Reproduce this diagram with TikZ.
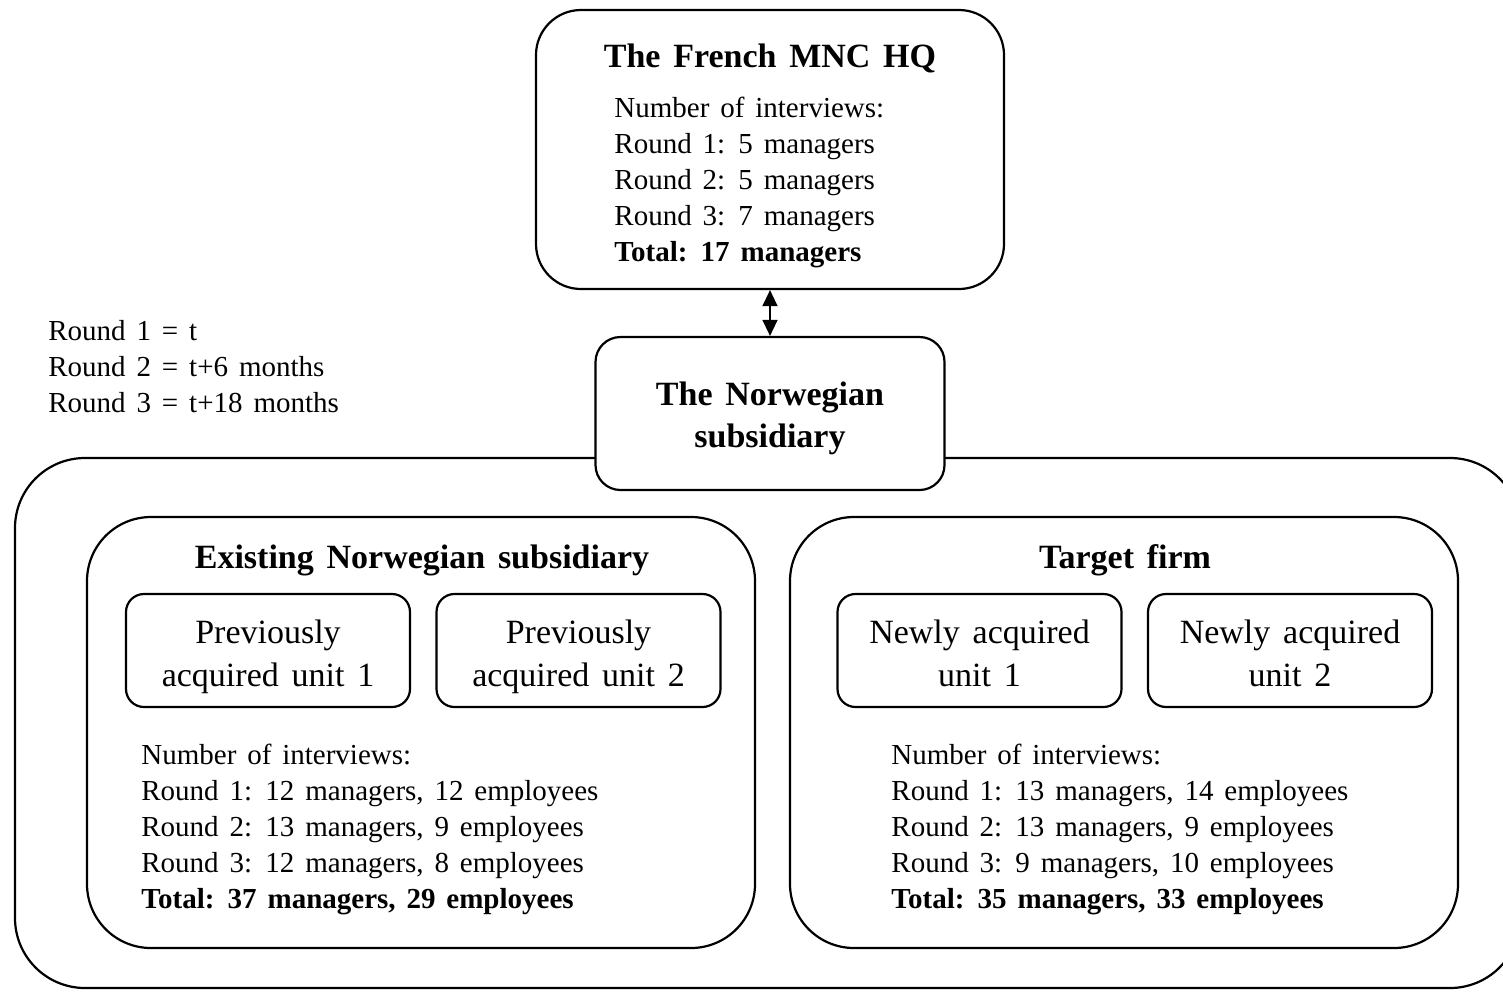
\documentclass[tikz,border=0pt]{standalone}
\usepackage{fontspec}
\setmainfont[WordSpace=1.5]{Liberation Serif}
\usetikzlibrary{arrows.meta, positioning}

\newcommand{\lowerline}[1]{\rule{0pt}{#1}}

\begin{document}
\begin{tikzpicture}[
    x=0.5pt, y=-0.5pt,
    frame/.style={
        draw,
        line width=1.1pt,
        fill=white,
        inner sep=0pt
    },
    outerbox/.style={frame, rounded corners=35pt, minimum width=752.5pt, minimum height=265pt},
    groupbox/.style={frame, rounded corners=32pt, minimum width=334pt, minimum height=215.5pt},
    hqbox/.style={frame, rounded corners=22.5pt, minimum width=234pt, minimum height=139.5pt},
    subbox/.style={
        frame,
        rounded corners=12.5pt,
        minimum width=174.5pt,
        minimum height=76.5pt,
        align=center,
        font=\fontsize{17}{21}\selectfont\bfseries
    },
    unitbox/.style={
        frame,
        rounded corners=9pt,
        minimum width=142pt,
        minimum height=56.5pt,
        align=center,
        font=\fontsize{17}{21.5}\selectfont
    },
    heading/.style={inner sep=0pt, font=\fontsize{17}{21}\selectfont\bfseries},
    info/.style={inner sep=0pt, anchor=west, align=left, font=\fontsize{14.5}{18}\selectfont},
    twoway/.style={{Triangle[length=8pt,width=7.5pt]}-{Triangle[length=8pt,width=7.5pt]}, line width=0.7pt}
]
\useasboundingbox (0,0) rectangle (1503,991);

\node[outerbox] (sub) at (767.5,723) {};
\node[subbox] (norw) at (770,413.5) {\lowerline{19pt}The Norwegian\\subsidiary\strut};
\node[hqbox] (hq) at (770,149.5) {};
\draw[twoway] (hq.south) -- (norw.north);

\node[heading] (hqtitle) at (770,58) {The French MNC HQ};
\node[info] (hqinfo) at (614,182) {Number of interviews:\\Round 1: 5 managers\\Round 2: 5 managers\\Round 3: 7 managers\\\textbf{Total: 17 managers}};

\node[info] (rounds) at (48,367) {Round 1 = t\\Round 2 = t+6 months\\Round 3 = t+18 months};

\node[groupbox] (existing) at (421,732.5) {};
\node[groupbox] (target) at (1124,732.5) {};

\node[heading] (existingtitle) at (422,560) {Existing Norwegian subsidiary};
\node[heading] (targettitle) at (1125,560) {Target firm};

\node[unitbox] (prev1) at (268,650.5) {\lowerline{21pt}Previously\\acquired unit 1\strut};
\node[unitbox] (prev2) at (578.5,650.5) {\lowerline{21pt}Previously\\acquired unit 2\strut};
\node[unitbox] (new1) at (979.5,650.5) {\lowerline{21pt}Newly acquired\\unit 1\strut};
\node[unitbox] (new2) at (1290,650.5) {\lowerline{21pt}Newly acquired\\unit 2\strut};

\node[info] (existinginfo) at (141,829.5) {Number of interviews:\\Round 1: 12 managers, 12 employees\\Round 2: 13 managers, 9 employees\\Round 3: 12 managers, 8 employees\\\textbf{Total: 37 managers, 29 employees}};
\node[info] (targetinfo) at (891,829.5) {Number of interviews:\\Round 1: 13 managers, 14 employees\\Round 2: 13 managers, 9 employees\\Round 3: 9 managers, 10 employees\\\textbf{Total: 35 managers, 33 employees}};
\end{tikzpicture}
\end{document}
